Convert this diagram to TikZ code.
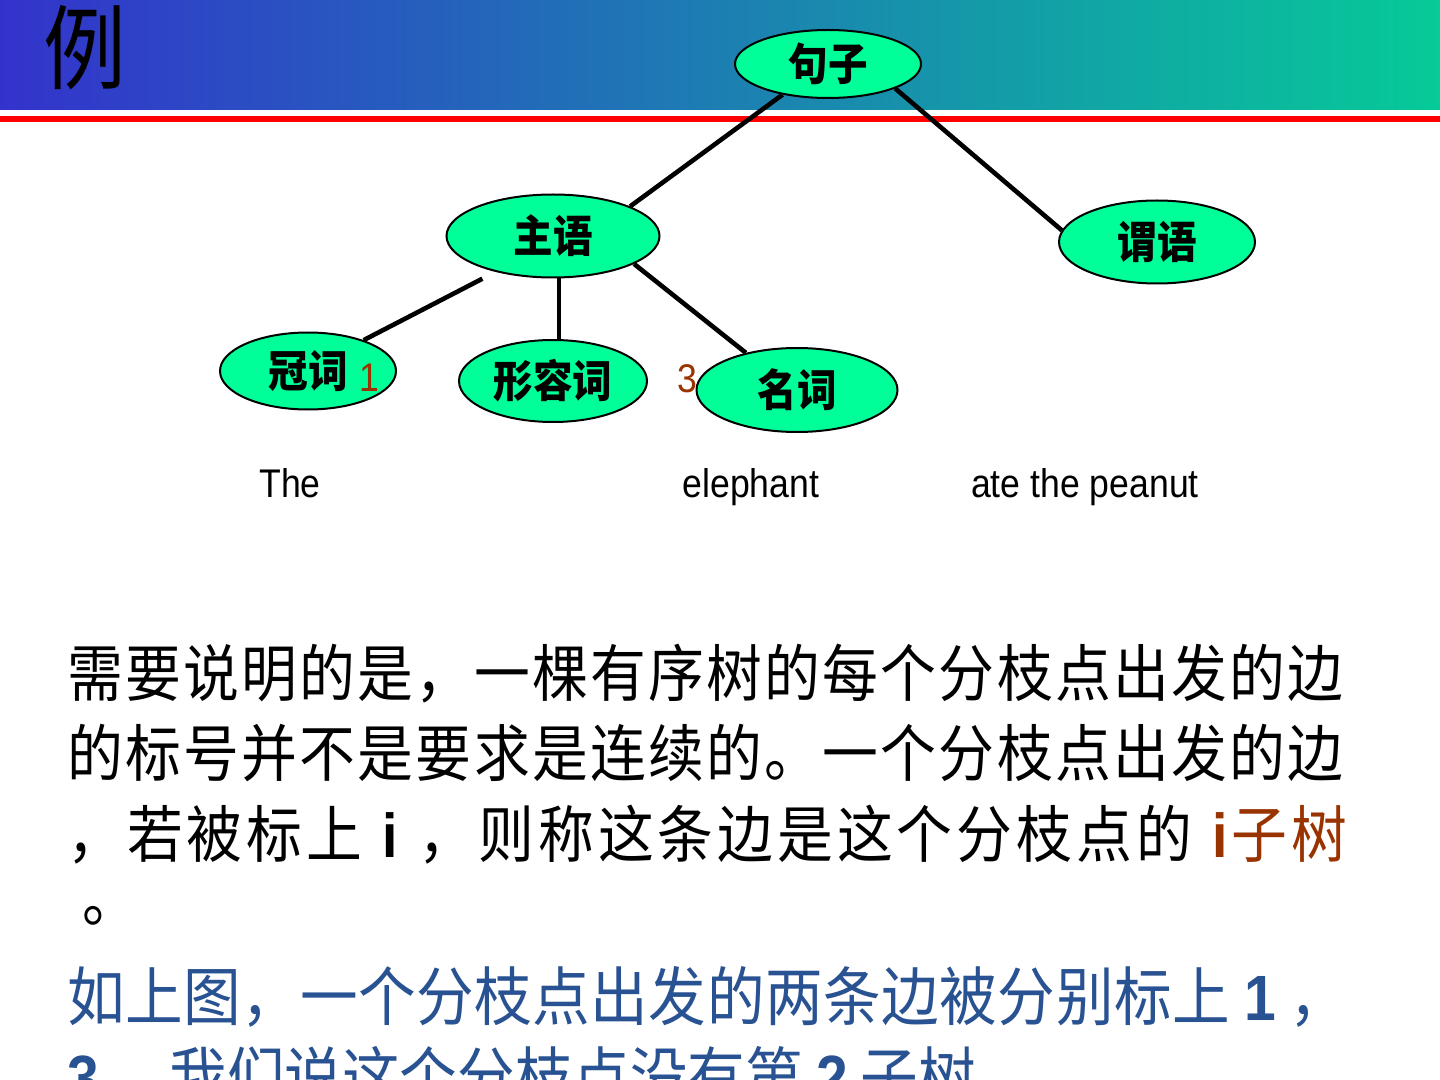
\documentclass[tikz,border=0pt]{standalone}
\usepackage{fontspec}
\setmainfont{Liberation Sans}[FakeStretch=0.89]
\newfontfamily\cjk{Noto Sans CJK SC}[FakeStretch=0.9]
\usetikzlibrary{shapes.geometric}
\definecolor{nodegreen}{RGB}{0,255,153}
\definecolor{labelbrown}{RGB}{153,51,0}
\definecolor{textblue}{RGB}{40,82,145}
\definecolor{hdrA}{RGB}{51,51,204}
\definecolor{hdrB}{RGB}{38,148,178}
\definecolor{hdrC}{RGB}{6,202,152}
\def\spreadend{\spreadend}
\def\spread#1{\ifx\spreadend#1\else{#1}\hskip 0pt plus 1fil minus 4pt\expandafter\spread\fi}
\newcommand\lbf[1]{{\rmfamily\bfseries #1}}
\begin{document}
\begin{tikzpicture}[x=0.5pt,y=-0.5pt,
  tnode/.style={ellipse, draw=black, line width=1pt, fill=nodegreen, inner sep=0pt,
    font=\cjk\bfseries\fontsize{22}{26}\selectfont},
  edge/.style={line width=2.3pt},
  word/.style={font=\fontsize{20}{24}\selectfont, inner sep=0pt, anchor=base},
  lab/.style={font=\fontsize{20}{24}\selectfont, text=labelbrown, inner sep=0pt, anchor=base},
  bodyA/.style={font=\cjk\fontsize{31}{36}\selectfont, inner sep=0pt, anchor=base west},
  bodyB/.style={font=\cjk\fontsize{32}{38}\selectfont, inner sep=0pt, anchor=base west, text=textblue}]
\useasboundingbox (0,0) rectangle (1440,1080);
\clip (0,0) rectangle (1440,1080);
\fill[white] (0,0) rectangle (1440,1080);
% header
\shade[left color=hdrA, middle color=hdrB, right color=hdrC] (0,0) rectangle (1440,110);
\fill[red] (0,116) rectangle (1440,122);
\node[font=\cjk\fontsize{46}{50}\selectfont, inner sep=0pt] (title) at (85,48) {例};
% tree
\node[tnode, minimum width=93pt, minimum height=34pt] (s) at (828,64) {句子};
\node[tnode, minimum width=106.5pt, minimum height=41.5pt] (z) at (553,236) {主语};
\node[tnode, minimum width=98pt, minimum height=41.5pt] (w) at (1157,242) {谓语};
\node[tnode, minimum width=88pt, minimum height=38.5pt] (g) at (308,371) {冠词};
\node[tnode, minimum width=94pt, minimum height=41pt] (xr) at (553,381) {形容词};
\node[tnode, minimum width=100.5pt, minimum height=42pt] (m) at (797,390) {名词};
\draw[edge] (s.214) -- (z.21);
\draw[edge] (s.340) -- (w.173);
\draw[edge, shorten >=7.4pt] (g.29) -- (z.212);
\draw[edge] ([xshift=3pt]z.south) -- ([xshift=3pt]xr.north);
\draw[edge] (z.341) -- (m.144);
\node[lab] (l1) at (369,392) {1};
\node[lab] (l3) at (687,393) {3};
% words
\node[word] (w1) at (290,497) {The};
\node[word] (w2) at (751,497) {elephant};
\node[word] (w3) at (1085,497) {ate the peanut};
% body text
\node[bodyA] (b1) at (67,696) {\hbox to 638pt{\spread 需要说明的是，一棵有序树的每个分枝点出发的边\spreadend\unskip}};
\node[bodyA] (b2) at (67,776) {\hbox to 638pt{\spread 的标号并不是要求是连续的。一个分枝点出发的边\spreadend\unskip}};
\node[bodyA] (b3) at (67,857) {\hbox to 640pt{\spread ，若被标上{\ }{\lbf{i}}{\ }，则称这条边是这个分枝点的{\ }{\lbf{\color{labelbrown}i}}{\color{labelbrown}子}{\color{labelbrown}树}\spreadend\unskip}};
\node[bodyA] (b4) at (82,921) {。};
\node[bodyB] (b5) at (67,1020) {\hbox to 640pt{\spread 如上图，一个分枝点出发的两条边被分别标上{\ }{\lbf{1}}{\ }，\spreadend\unskip}};
\node[bodyB] (b6) at (67,1100) {\lbf{3} ，我们说这个分枝点没有第 \lbf{2} 子树 。};
\end{tikzpicture}
\end{document}
